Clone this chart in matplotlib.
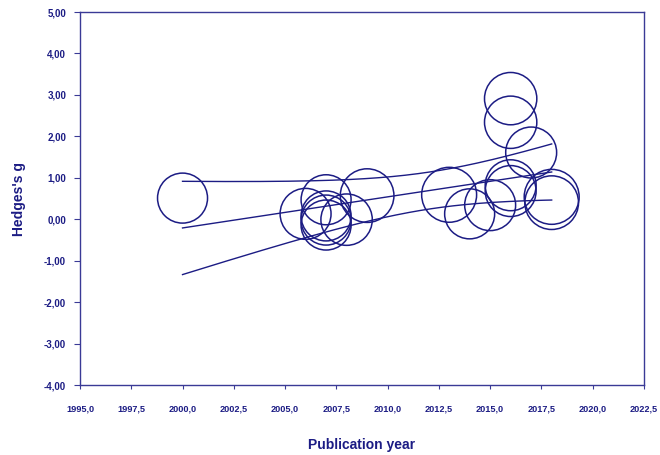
import numpy as np
import matplotlib.pyplot as plt
from matplotlib.ticker import FuncFormatter, MultipleLocator

# Studies: publication year, effect size and relative weight (%)
years = [2000, 2006, 2007, 2007, 2007, 2007, 2008, 2009, 2013, 2014,
         2015, 2016, 2016, 2017, 2016, 2016, 2018, 2018]
hedges_g = [0.51, 0.13, 0.47, 0.08, -0.02, -0.14, -0.01, 0.57, 0.59, 0.13,
            0.34, 2.91, 2.34, 1.61, 0.82, 0.68, 0.54, 0.40]
weights = [5.3, 5.5, 5.3, 5.3, 5.3, 5.3, 5.6, 6.1, 6.4, 5.3,
           5.5, 5.8, 5.8, 5.5, 5.5, 5.5, 6.4, 6.1]

# Meta-regression: g = intercept + slope * year, with 95% confidence band
slope = 0.075
intercept = -150.21
se_at_center = 0.2276
se_slope = 0.0437
center_year = 2012.06
fit_range = (2000, 2018)

navy = '#1c1c84'
plt.rcParams['font.family'] = ['Liberation Sans', 'DejaVu Sans']

fig = plt.figure(figsize=(6.6, 4.55), dpi=100)
ax = fig.add_axes([0.1212, 0.1538, 0.8545, 0.8198])

# Bubbles, area proportional to study weight
sizes = np.array(weights) / 5.3 * 1296
ax.scatter(years, hedges_g, s=sizes, facecolors='none', edgecolors=navy,
           linewidths=1.1, zorder=3)

# Regression line and confidence limits
xs = np.linspace(fit_range[0], fit_range[1], 200)
pred = intercept + slope * xs
half = 1.96 * np.sqrt(se_at_center ** 2 + (se_slope * (xs - center_year)) ** 2)
for curve in (pred, pred + half, pred - half):
    ax.plot(xs, curve, color=navy, lw=1.0, zorder=2)

ax.set_xlim(1995, 2022.5)
ax.set_ylim(-4, 5)
ax.xaxis.set_major_locator(MultipleLocator(2.5))
ax.yaxis.set_major_locator(MultipleLocator(1))
ax.xaxis.set_major_formatter(FuncFormatter(lambda v, p: f'{v:.1f}'.replace('.', ',')))
ax.yaxis.set_major_formatter(FuncFormatter(lambda v, p: f'{v:.2f}'.replace('.', ',')))

for side in ax.spines.values():
    side.set_color('#3a3a96')
    side.set_linewidth(1.0)
ax.tick_params(axis='x', direction='out', length=3, width=0.8, color='#3a3a96',
               pad=11, labelsize=6.6, labelcolor=navy)
ax.tick_params(axis='y', direction='out', length=4, width=0.8, color='#3a3a96',
               pad=6, labelsize=7, labelcolor=navy)
for lab in ax.get_xticklabels() + ax.get_yticklabels():
    lab.set_fontweight('bold')

ax.set_xlabel('Publication year', fontsize=10, fontweight='bold', color=navy, labelpad=18)
ax.set_ylabel("Hedges's g", fontsize=10, fontweight='bold', color=navy, labelpad=13)

fig.savefig('out.png', dpi=100)
